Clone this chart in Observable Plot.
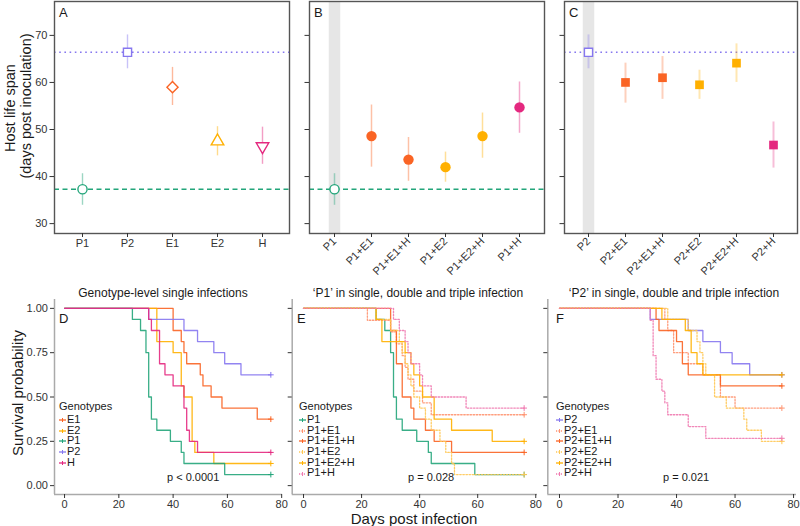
<!DOCTYPE html>
<html><head><meta charset="utf-8">
<script src="https://cdn.jsdelivr.net/npm/d3@7"></script>
<script src="https://cdn.jsdelivr.net/npm/@observablehq/plot@0.6"></script>
<style>
body{margin:0;background:#fff;font-family:"Liberation Sans",Arial,sans-serif;}
#root{position:relative;width:800px;height:526px;overflow:hidden;background:#fff;}
#root svg{overflow:visible;}
.lbl{position:absolute;white-space:nowrap;color:#1a1a1a;line-height:1;}
.leg{position:absolute;font-size:11px;color:#1a1a1a;white-space:nowrap;}
.leg div{height:10.7px;line-height:10.7px;}
.leg svg{vertical-align:middle;margin-right:1px;}
</style></head><body><div id="root"></div>
<script>
// ---------- Top row: host life span (mean and 95% CI) ----------
const catsA = ["P1", "P2", "E1", "E2", "H"];
const meanA = [37.3, 66.4, 59.0, 47.5, 46.4];
const loA   = [33.9, 62.9, 55.1, 44.4, 42.6];
const hiA   = [40.6, 70.1, 63.2, 50.6, 50.5];

const catsB = ["P1", "P1+E1", "P1+E1+H", "P1+E2", "P1+E2+H", "P1+H"];
const meanB = [37.3, 48.6, 43.6, 42.0, 48.6, 54.7];
const loB   = [33.9, 42.0, 39.0, 38.8, 43.9, 49.2];
const hiB   = [40.6, 55.2, 48.3, 45.2, 53.5, 60.1];

const catsC = ["P2", "P2+E1", "P2+E1+H", "P2+E2", "P2+E2+H", "P2+H"];
const meanC = [66.4, 60.0, 61.0, 59.5, 64.1, 46.7];
const loC   = [62.9, 55.6, 56.4, 56.4, 60.0, 41.8];
const hiC   = [70.1, 64.1, 65.5, 62.6, 68.2, 51.6];

const yTicksTop = [30, 40, 50, 60, 70];

// ---------- Bottom row: Kaplan-Meier survival [day, survival] ----------
const survP1 = [[0,1],[25,0.9375],[28,0.875],[30,0.75],[31,0.5],[32,0.375],[34,0.3125],[39,0.25],[43,0.1875],[44,0.125],[59,0.0625],[76,0.0625]];
const survP2 = [[0,1],[31,0.9375],[44,0.875],[49,0.8125],[55,0.75],[59,0.6875],[65,0.625],[76,0.625]];
const survE1 = [[0,1],[40,0.875],[43,0.8125],[44,0.75],[45,0.6875],[50,0.625],[51,0.5625],[54,0.5],[58,0.4375],[71,0.375],[76,0.375]];
const survE2 = [[0,1],[34,0.8125],[40,0.75],[43,0.5625],[44,0.5],[47,0.25],[48,0.1875],[55,0.125],[76,0.125]];
const survH  = [[0,1],[31,0.9375],[32,0.875],[35,0.6875],[37,0.625],[40,0.5625],[44,0.4375],[45,0.3125],[46,0.25],[49,0.1875],[76,0.1875]];

const survP1E1  = [[0,1],[22,0.933],[30,0.867],[32,0.8],[34,0.733],[35,0.667],[36,0.6],[38,0.533],[41,0.467],[44,0.4],[76,0.4]];
const survP1E1H = [[0,1],[30,0.875],[32,0.6875],[34,0.5],[37,0.4375],[38,0.375],[42,0.3125],[45,0.25],[51,0.1875],[76,0.1875]];
const survP1E2  = [[0,1],[25,0.9375],[30,0.875],[33,0.8125],[34,0.75],[35,0.6875],[36,0.625],[37,0.5625],[38,0.5],[40,0.4375],[42,0.375],[44,0.3125],[47,0.25],[49,0.1875],[51,0.125],[52,0.0625],[76,0.0625]];
const survP1E2H = [[0,1],[25,0.9375],[27,0.8125],[35,0.75],[37,0.6875],[38,0.625],[40,0.5625],[41,0.5],[45,0.375],[51,0.3125],[65,0.25],[76,0.25]];
const survP1H   = [[0,1],[31,0.9375],[33,0.875],[35,0.8125],[36,0.75],[37,0.6875],[40,0.625],[41,0.5625],[44,0.5],[56,0.4375],[76,0.4375]];

const survP2E1  = [[0,1],[36,0.9375],[37,0.875],[39,0.75],[44,0.6875],[49,0.625],[55,0.5],[60,0.4375],[76,0.4375]];
const survP2E1H = [[0,1],[33,0.9375],[34,0.875],[40,0.8125],[42,0.6875],[44,0.625],[55,0.5625],[76,0.5625]];
const survP2E2  = [[0,1],[37,0.9375],[44,0.875],[47,0.8125],[48,0.75],[49,0.6875],[50,0.625],[53,0.5],[57,0.4375],[63,0.375],[64,0.3125],[69,0.25],[76,0.25]];
const survP2E2H = [[0,1],[35,0.9375],[43,0.875],[45,0.75],[47,0.6875],[49,0.625],[76,0.625]];
const survP2H   = [[0,1],[31,0.933],[32,0.733],[33,0.6],[35,0.533],[36,0.467],[37,0.4],[44,0.333],[50,0.267],[76,0.267]];

const survTicksX = [0, 20, 40, 60, 80];
const survTicksY = [0, 0.25, 0.5, 0.75, 1];
const pD = "p < 0.0001", pE = "p = 0.028", pF = "p = 0.021";

// ---------- styling ----------
const cP1 = "#23a57a", cP2 = "#8677ef", cE1 = "#fa6424", cE2 = "#ffb000", cH = "#e4287f";
const cE1l = "#ff9370", cE2l = "#ffc855", cHl = "#f07ab0";
const FONT = '"Liberation Sans", Arial, sans-serif';
const root = document.getElementById("root");

function put(el, left, top) {
  el.style.position = "absolute";
  el.style.left = left + "px";
  el.style.top = top + "px";
  root.appendChild(el);
}
function label(text, x, y, size, opts = {}) {
  const d = document.createElement("div");
  d.className = "lbl";
  d.textContent = text;
  d.style.fontSize = size + "px";
  const anchor = opts.anchor || "middle";
  const tx = anchor === "start" ? "0" : "-50%";
  d.style.transform = `translate(${tx},-50%)` + (opts.rotate ? ` rotate(${opts.rotate}deg)` : "");
  d.style.transformOrigin = anchor === "start" ? "0 50%" : "50% 50%";
  if (opts.color) d.style.color = opts.color;
  put(d, x, y);
  return d;
}

const invTriangle2 = {
  draw(context, size) {
    const s = Math.sqrt(size) * 0.6824, t = s / 2, u = s * Math.sqrt(3) / 2;
    context.moveTo(0, s); context.lineTo(u, -t); context.lineTo(-u, -t); context.closePath();
  }
};

const styleBase = {fontFamily: FONT, fontSize: "11px", color: "#333", background: "transparent", overflow: "visible"};
const yDomTop = [27.9, 77.2];

function rows(cats, mean, lo, hi) {
  return cats.map((c, i) => ({c, m: mean[i], lo: lo[i], hi: hi[i]}));
}

// ----- Panel A -----
{
  const data = rows(catsA, meanA, loA, hiA);
  const col = {P1: cP1, P2: cP2, E1: cE1, E2: cE2, H: cH};
  const sym = {P1: ["circle", 4.6], P2: ["square2", 5.2], E1: ["diamond2", 5.0], E2: ["triangle2", 6.0], H: [invTriangle2, 6.0]};
  const p = Plot.plot({
    width: 290, height: 270, marginLeft: 54, marginRight: 1, marginTop: 1, marginBottom: 37,
    x: {type: "point", domain: catsA, padding: 0.6}, y: {domain: yDomTop},
    color: {type: "identity"}, style: styleBase,
    marks: [
      Plot.ruleY([meanA[1]], {stroke: cP2, strokeDasharray: "1.6,3.6", strokeWidth: 1.6}),
      Plot.ruleY([meanA[0]], {stroke: cP1, strokeDasharray: "5,3.5", strokeWidth: 1.5}),
      Plot.ruleX(data, {x: "c", y1: "lo", y2: "hi", stroke: d => col[d.c], strokeOpacity: 0.45, strokeWidth: 1.4}),
      ...data.map(d => Plot.dot([d], {x: "c", y: "m", symbol: sym[d.c][0], r: sym[d.c][1], stroke: col[d.c], fill: "white", strokeWidth: 1.4})),
      Plot.frame({stroke: "#555", strokeWidth: 1.4}),
      Plot.axisX({tickSize: 4, tickPadding: 2, label: null, fontSize: 11}),
      Plot.axisY({ticks: yTicksTop, tickSize: 4.5, tickPadding: 2.5, label: null, fontSize: 11})
    ]
  });
  put(p, 0, 0);
}

// ----- Panel B -----
{
  const data = rows(catsB, meanB, loB, hiB);
  const col = c => c === "P1" ? cP1 : c.includes("E1") ? cE1 : c.includes("E2") ? cE2 : cH;
  const p = Plot.plot({
    width: 255, height: 270, marginLeft: 19, marginRight: 1, marginTop: 1, marginBottom: 37,
    x: {type: "point", domain: catsB, padding: 0.6}, y: {domain: yDomTop},
    color: {type: "identity"}, style: styleBase,
    marks: [
      Plot.ruleX([catsB[0]], {stroke: "#e6e6e6", strokeWidth: 11.5}),
      Plot.ruleY([meanB[0]], {stroke: cP1, strokeDasharray: "5,3.5", strokeWidth: 1.5}),
      Plot.ruleX(data, {x: "c", y1: "lo", y2: "hi", stroke: d => col(d.c), strokeOpacity: 0.4, strokeWidth: 1.5}),
      Plot.dot(data.slice(0, 1), {x: "c", y: "m", r: 4.6, stroke: cP1, fill: "white", strokeWidth: 1.4}),
      Plot.dot(data.slice(1), {x: "c", y: "m", r: 5.2, fill: d => col(d.c)}),
      Plot.frame({stroke: "#555", strokeWidth: 1.4}),
      Plot.axisX({tickSize: 4, tickPadding: 2, tickRotate: -45, label: null, fontSize: 11}),
      Plot.axisY({ticks: yTicksTop, tickSize: 4.5, tickFormat: () => "", label: null})
    ]
  });
  put(p, 290, 0);
}

// ----- Panel C -----
{
  const data = rows(catsC, meanC, loC, hiC);
  const col = c => c === "P2" ? cP2 : c.includes("E1") ? cE1 : c.includes("E2") ? cE2 : cH;
  const p = Plot.plot({
    width: 255, height: 270, marginLeft: 19, marginRight: 3, marginTop: 1, marginBottom: 37,
    x: {type: "point", domain: catsC, padding: 0.6}, y: {domain: yDomTop},
    color: {type: "identity"}, style: styleBase,
    marks: [
      Plot.ruleX([catsC[0]], {stroke: "#e6e6e6", strokeWidth: 11.5}),
      Plot.ruleY([meanC[0]], {stroke: cP2, strokeDasharray: "1.6,3.6", strokeWidth: 1.6}),
      Plot.ruleX(data, {x: "c", y1: "lo", y2: "hi", stroke: d => col(d.c), strokeOpacity: 0.3, strokeWidth: 2}),
      Plot.dot(data.slice(0, 1), {x: "c", y: "m", symbol: "square2", r: 5.2, stroke: cP2, fill: "white", strokeWidth: 1.4}),
      Plot.dot(data.slice(1), {x: "c", y: "m", symbol: "square", r: 4.9, fill: d => col(d.c)}),
      Plot.frame({stroke: "#555", strokeWidth: 1.4}),
      Plot.axisX({tickSize: 4, tickPadding: 2, tickRotate: -45, label: null, fontSize: 11}),
      Plot.axisY({ticks: yTicksTop, tickSize: 4.5, tickFormat: () => "", label: null})
    ]
  });
  put(p, 545, 0);
}

// ----- Survival panels -----
function survPanel({left, width, mLeft, mRight, xDom, series, yLabels}) {
  const marks = [
    Plot.ruleX([xDom[0]], {stroke: "#aaa", strokeWidth: 1.5}),
    Plot.ruleY([-0.05], {stroke: "#aaa", strokeWidth: 1.5})
  ];
  for (const s of series) {
    marks.push(Plot.line(s.pts, {x: d => d[0], y: d => d[1], curve: "step-after", stroke: s.color,
      strokeWidth: 1.3, strokeDasharray: s.dash ? "1.5,1.6" : null, strokeOpacity: 0.9}));
    marks.push(Plot.dot(s.pts.slice(-1), {x: d => d[0], y: d => d[1], symbol: "plus", r: 2, stroke: s.color, strokeWidth: 1}));
  }
  marks.push(Plot.axisX({ticks: survTicksX, tickSize: 4, tickPadding: 1.5, label: null, fontSize: 11}));
  marks.push(Plot.axisY({ticks: survTicksY, tickSize: 4, tickPadding: 2.5, label: null, fontSize: 11,
    tickFormat: yLabels ? d3.format(".2f") : () => ""}));
  const p = Plot.plot({
    width, height: 256, marginLeft: mLeft, marginRight: mRight, marginTop: 29, marginBottom: 32,
    x: {domain: xDom}, y: {domain: [-0.05, 1.05]}, style: styleBase, marks
  });
  put(p, left, 270);
}

const seriesD = [
  {name: "E1", pts: survE1, color: cE1},
  {name: "E2", pts: survE2, color: cE2},
  {name: "P1", pts: survP1, color: cP1},
  {name: "P2", pts: survP2, color: cP2},
  {name: "H", pts: survH, color: cH}
];
const seriesE = [
  {name: "P1", pts: survP1, color: cP1},
  {name: "P1+E1", pts: survP1E1, color: cE1l, dash: true},
  {name: "P1+E1+H", pts: survP1E1H, color: cE1},
  {name: "P1+E2", pts: survP1E2, color: cE2l, dash: true},
  {name: "P1+E2+H", pts: survP1E2H, color: cE2},
  {name: "P1+H", pts: survP1H, color: cHl, dash: true}
];
const seriesF = [
  {name: "P2", pts: survP2, color: cP2},
  {name: "P2+E1", pts: survP2E1, color: cE1l, dash: true},
  {name: "P2+E1+H", pts: survP2E1H, color: cE1},
  {name: "P2+E2", pts: survP2E2, color: cE2l, dash: true},
  {name: "P2+E2+H", pts: survP2E2H, color: cE2},
  {name: "P2+H", pts: survP2H, color: cHl, dash: true}
];

survPanel({left: 0, width: 285, mLeft: 54, mRight: 3, xDom: [-3.7, 80.3], series: seriesD, yLabels: true});
survPanel({left: 285, width: 255, mLeft: 6.7, mRight: 3, xDom: [-3.9, 80.6], series: seriesE});
survPanel({left: 540, width: 260, mLeft: 7.3, mRight: 4, xDom: [-4, 81], series: seriesF});

// ----- legends -----
function legend(series, x, y) {
  const box = document.createElement("div");
  box.className = "leg";
  const t = document.createElement("div");
  t.textContent = "Genotypes";
  t.style.height = "14px"; t.style.lineHeight = "12px";
  box.appendChild(t);
  for (const s of series) {
    const row = document.createElement("div");
    const ns = "http://www.w3.org/2000/svg";
    const g = document.createElementNS(ns, "svg");
    g.setAttribute("width", "7"); g.setAttribute("height", "8");
    const l = document.createElementNS(ns, "line");
    l.setAttribute("x1", "0"); l.setAttribute("x2", "7"); l.setAttribute("y1", "4"); l.setAttribute("y2", "4");
    l.setAttribute("stroke", s.color); l.setAttribute("stroke-width", "1.3");
    if (s.dash) l.setAttribute("stroke-dasharray", "1.2,1.2");
    const v = document.createElementNS(ns, "line");
    v.setAttribute("x1", "3.5"); v.setAttribute("x2", "3.5"); v.setAttribute("y1", "2"); v.setAttribute("y2", "6");
    v.setAttribute("stroke", s.color); v.setAttribute("stroke-width", "1");
    g.appendChild(l); g.appendChild(v);
    row.appendChild(g);
    row.appendChild(document.createTextNode(s.name));
    box.appendChild(row);
  }
  put(box, x, y);
}
legend(seriesD, 59, 400);
legend(seriesE, 299, 400);
legend(seriesF, 556, 400);

// ----- texts -----
label("A", 59, 12, 13, {anchor: "start"});
label("B", 314, 12, 13, {anchor: "start"});
label("C", 569, 12, 13, {anchor: "start"});
label("D", 59, 318, 13, {anchor: "start"});
label("E", 297, 318, 13, {anchor: "start"});
label("F", 556, 318, 13, {anchor: "start"});

label("Genotype-level single infections", 163, 293, 12);
label("\u2018P1\u2019 in single, double and triple infection", 418, 293, 12);
label("\u2018P2\u2019 in single, double and triple infection", 674, 293, 12);

label(pD, 167, 477, 11, {anchor: "start"});
label(pE, 408, 477, 11, {anchor: "start"});
label(pF, 663, 477, 11, {anchor: "start"});

label("Host life span", 10, 108, 14.5, {rotate: -90});
label("(days post inoculation)", 25.5, 106, 14.5, {rotate: -90});
label("Survival probability", 17, 393, 15, {rotate: -90});
label("Days post infection", 414, 518, 15);
</script></body></html>
